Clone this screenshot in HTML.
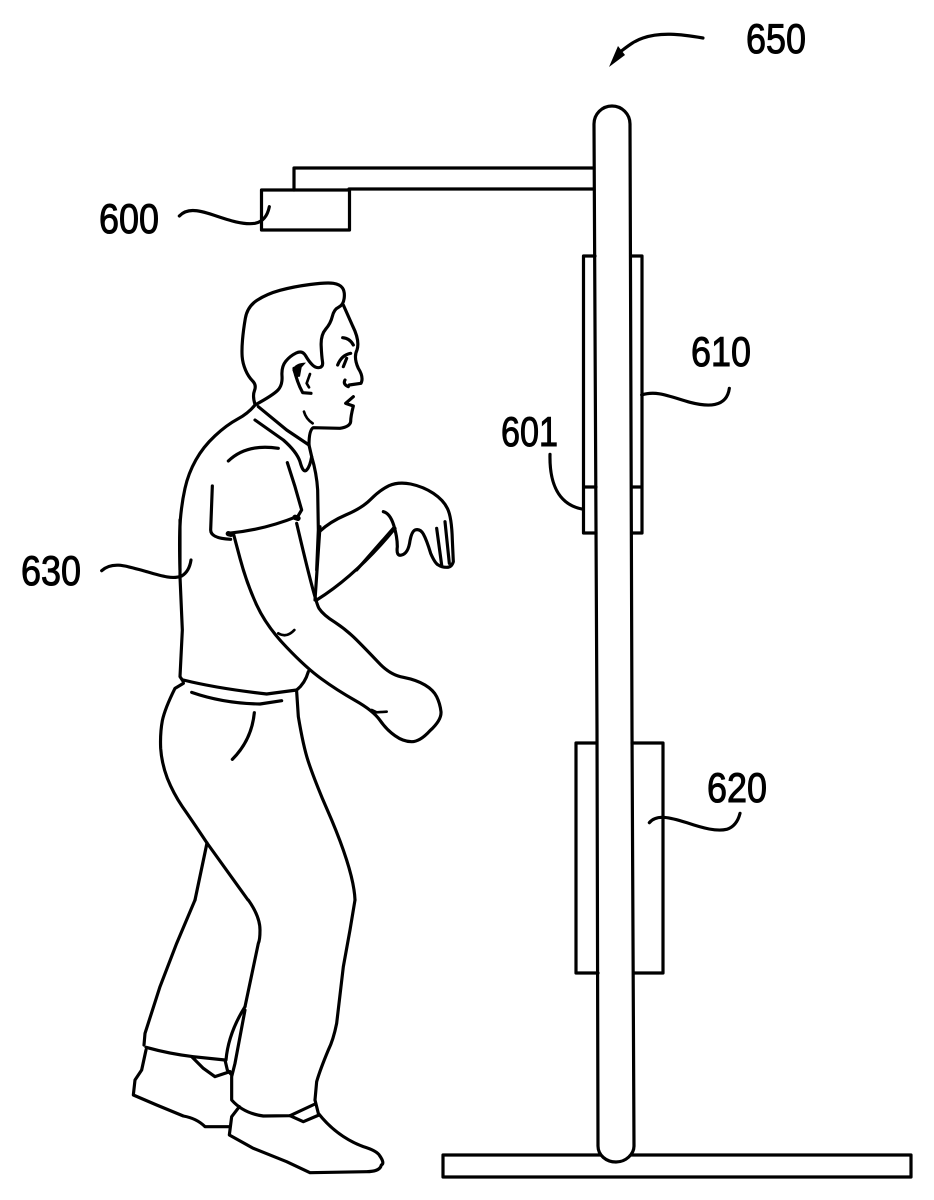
<!DOCTYPE html>
<html>
<head>
<meta charset="utf-8">
<style>
html,body{margin:0;padding:0;background:#fff;}
svg{display:block;}
text{font-family:"Liberation Sans",Arial,sans-serif;font-size:42px;fill:#000;stroke:#000;stroke-width:1px;}
.l{fill:none;stroke:#000;stroke-linejoin:round;stroke-linecap:round;}
.z{stroke-width:9.5;}
.s{stroke-width:3.2;}
.t{stroke-width:8;}
</style>
</head>
<body>
<svg width="934" height="1200" viewBox="0 0 934 1200" xmlns="http://www.w3.org/2000/svg">
<rect width="934" height="1200" fill="#fff"/>

<!-- base -->
<rect class="l s" x="443" y="1155" width="468" height="22"/>
<!-- pole -->
<path d="M594 124 A18 18 0 0 1 630 124 L634 1146 C634 1154 626 1162 616 1162 C606 1162 598 1155 598 1146 Z" fill="#fff"/>
<path class="l s" d="M598 1146 C598 1155 606 1162 616 1162 C626 1162 634 1154 634 1146 L632 730 L630 124 A18 18 0 0 0 594 124 L597 730 Z"/>
<!-- arm and camera -->
<path class="l s" d="M594 168 H294 V190 M349 189 H594"/>
<rect class="l s" x="261.500" y="190" width="88" height="40"/>
<!-- panel 610 -->
<path class="l s" d="M595 256 H583.500 V533 H596 M631 256 H642 V533 H632 M584 487 H596 M632 487 H642"/>
<!-- panel 620 -->
<path class="l s" d="M596 743 H576 V973 H598 M632 743 H663 V973 H634"/>

<!-- labels -->
<text x="746" y="53" textLength="60" lengthAdjust="spacingAndGlyphs">650</text>
<text x="99" y="233" textLength="60" lengthAdjust="spacingAndGlyphs">600</text>
<text x="691" y="366" textLength="60" lengthAdjust="spacingAndGlyphs">610</text>
<text x="501" y="446" textLength="57" lengthAdjust="spacingAndGlyphs">601</text>
<text x="707" y="802" textLength="60" lengthAdjust="spacingAndGlyphs">620</text>
<text x="21" y="585" textLength="60" lengthAdjust="spacingAndGlyphs">630</text>

<!-- leaders -->
<path class="l s" d="M703 38 C680 34 660 32 643 38 C634 41 628 46 620 52"/>
<polygon points="609,67 618,46 625,55" fill="#000"/>
<g transform="translate(80 150) scale(.33333)">
<path class="l z" d="M298 198 C320 175 350 178 400 195 C450 212 490 225 525 220 C550 215 563 195 568 170"/>
</g>
<g transform="translate(490 240) scale(.33333)">
<path class="l z" d="M455 465 C500 450 540 470 600 487 C650 500 710 505 718 445"/>
<path class="l z" d="M180 643 C178 730 205 795 280 808"/>
</g>
<g transform="translate(560 730) scale(.33333)">
<path class="l z" d="M268 278 C290 252 330 262 380 278 C430 295 470 305 500 298 C525 290 535 270 540 250"/>
</g>
<g transform="translate(0 530) scale(.33333)">
<path class="l z" d="M305 122 C340 90 390 112 440 125 C490 140 520 148 545 138 C562 128 570 110 573 90"/>
</g>

<!-- man: head and upper body -->
<g transform="translate(160 270) scale(.33333)">
<!-- hair -->
<path class="l z" d="M285 403 Q277 378 283.500 361.500 Q290 345 277.500 332.500 Q265 320 256.500 300 Q248 280 246.500 260 Q245 240 247.500 210 Q250 180 256 145 Q262 110 291 91 Q320 72 360 61 Q400 50 450 43.500 Q500 37 520 40 Q540 43 547.500 54 Q555 65 552.500 85 Q550 105 536 111.500 Q522 118 517 139 Q512 160 497 177.500 Q482 195 483.500 227.500 Q485 260 487.500 275 Q490 290 479 292.500 Q468 295 457.500 285 Q447 275 437 257.500 Q427 240 408.500 249 Q390 258 377 274 Q364 290 366 317.500 Q368 345 354 360 Q340 375 285 405"/>
<!-- face -->
<path class="l z" d="M550 105 L578 168 Q600 212 591 240 Q580 262 595 295 Q612 322 603 340 L568 345"/>
<path class="l z" d="M555 330 Q548 343 565 350"/>
<path class="l z" d="M580 380 L557 400 L580 408 Q572 440 572 455 Q570 470 540 475 L460 473 Q447 480 447 525"/>
<path class="l z" d="M548 203 Q570 205 580 225"/>
<path class="l z" d="M572 250 Q545 255 533 285 M560 265 L550 290"/>
<path class="l t" d="M432 425 Q438 447 458 460"/>
<!-- ear -->
<path class="l z" d="M402 295 Q410 335 428 368 L453 370"/>
<path d="M397 300 Q405 278 438 278 L425 292 L420 320 L405 322 Z" fill="#000"/>
<path class="l t" d="M450 312 L440 340 L447 352"/>
<!-- shirt -->
<path class="l z" d="M285 405 Q265 430 232.500 447.500 Q200 465 165 497.500 Q130 530 107.500 570 Q85 610 75 655 Q65 700 61 750 Q57 800 60 900"/>
<path class="l z" d="M295 410 L380 480 L447 525"/>
<path class="l z" d="M285 450 L370 510 Q410 545 420 575 Q430 612 440 600 Q450 590 455 560 L447 525"/>
<path class="l z" d="M205 573 Q260 520 355 535"/>
<path class="l z" d="M382 578 L405 650 L425 720 L410 745"/>
<path class="l z" d="M157 648 L152 780 Q152 805 212 808"/>
<path class="l z" d="M205 790 Q310 780 410 740"/>
<path class="l" stroke-width="16" d="M205 791 L213 793 M405 742 L414 745"/>
<path class="l z" d="M455 560 Q470 610 473 660 L475 780 L470 900"/>
<!-- arm & hand -->
<path class="l z" d="M478 785 Q510 755 557 735 Q605 715 632 688 Q660 660 687 647 Q715 635 752 642 Q790 650 820 670 Q850 690 862 715 Q875 740 877 810 L880 875 Q875 892 860 892 Q845 892 835 885 Q825 880 812 850 Q800 810 790 792 Q780 775 765 780 Q755 785 750 812 Q745 850 725 855 Q708 860 712 830 Q712 800 701 765 Q690 730 670 725"/>
<path class="l z" d="M830 775 L845 885"/>
<path class="l z" d="M855 755 L868 880"/>
<path class="l z" d="M700 775 L590 900"/>
</g>

<!-- torso / arm / pants -->
<g transform="translate(150 520) scale(.33333)">
<path class="l z" d="M90 0 L90 170 L97 330 L90 470 L100 485"/>
<path class="l z" d="M100 480 Q200 505 350 522 L440 510"/>
<path class="l z" d="M125 517 Q220 550 330 552 L395 542"/>
<path class="l z" d="M313 578 Q305 660 247 718"/>
<path class="l z" d="M100 490 L75 505 Q45 565 37 602 Q30 640 32 685 Q35 730 52 775 Q70 820 97 860 Q125 900 171 969 L294 1140"/>
<path class="l z" d="M440 515 L445 590 Q460 680 475 725 Q490 770 517 835 L545 900 Q612 1060 615 1140"/>
<path class="l z" d="M440 510 Q465 490 475 455"/>
<path class="l z" d="M250 40 L270 115 Q290 190 320 255 Q350 320 410 382 Q470 445 515 477 Q560 510 615 541 Q670 572 690 601 Q710 630 735 647 Q760 665 785 665 Q810 665 840 632 Q875 600 873 575 Q870 550 860 530 Q850 510 825 495 Q800 480 760 472 Q720 465 685 427 Q650 390 620 360 Q590 330 555 307 Q520 285 507 265 Q495 245 440 10"/>
<path class="l z" d="M495 240 L510 20"/>
<path class="l z" d="M500 240 Q620 165 735 25"/>
<path class="l t" d="M385 340 Q410 355 433 330"/>
<path class="l t" d="M665 570 L680 577 L710 575"/>
</g>

<!-- rear-leg front edge -->
<path class="l s" d="M207 843 L195 900"/>

<!-- legs and shoes -->
<g transform="translate(120 900) scale(.33333)">
<path class="l z" d="M225 0 L170 130 L120 260 L75 400 L72 435"/>
<path class="l z" d="M385 0 Q420 50 420 90 Q420 120 415 130 L375 320"/>
<path class="l z" d="M705 0 L690 90 L670 200 L650 370 Q640 420 625 450 Q600 510 590 545 L585 600"/>
<path class="l z" d="M78 442 Q150 462 220 470 L315 480"/>
<path class="l z" d="M78 450 L65 510 L45 540 L40 585 L110 615 L190 648 Q230 655 255 680 L330 680"/>
<path class="l z" d="M215 470 L250 505 L285 530 L330 515"/>
<path class="l z" d="M315 480 L322 510 L335 525"/>
<path class="l z" d="M375 320 Q325 400 318 480"/>
<path class="l z" d="M375 330 L345 490 L335 530 L335 600 Q370 640 430 648 L510 647 L585 612"/>
<path class="l z" d="M585 600 L595 640 Q650 710 730 740 Q770 752 779 767 Q795 790 784 795 Q780 815 740 815 L570 818 L500 785 L400 745 L328 705 L335 650 L358 620"/>
<path class="l z" d="M510 647 L550 665 L597 645"/>
</g>
</svg>
</body>
</html>
